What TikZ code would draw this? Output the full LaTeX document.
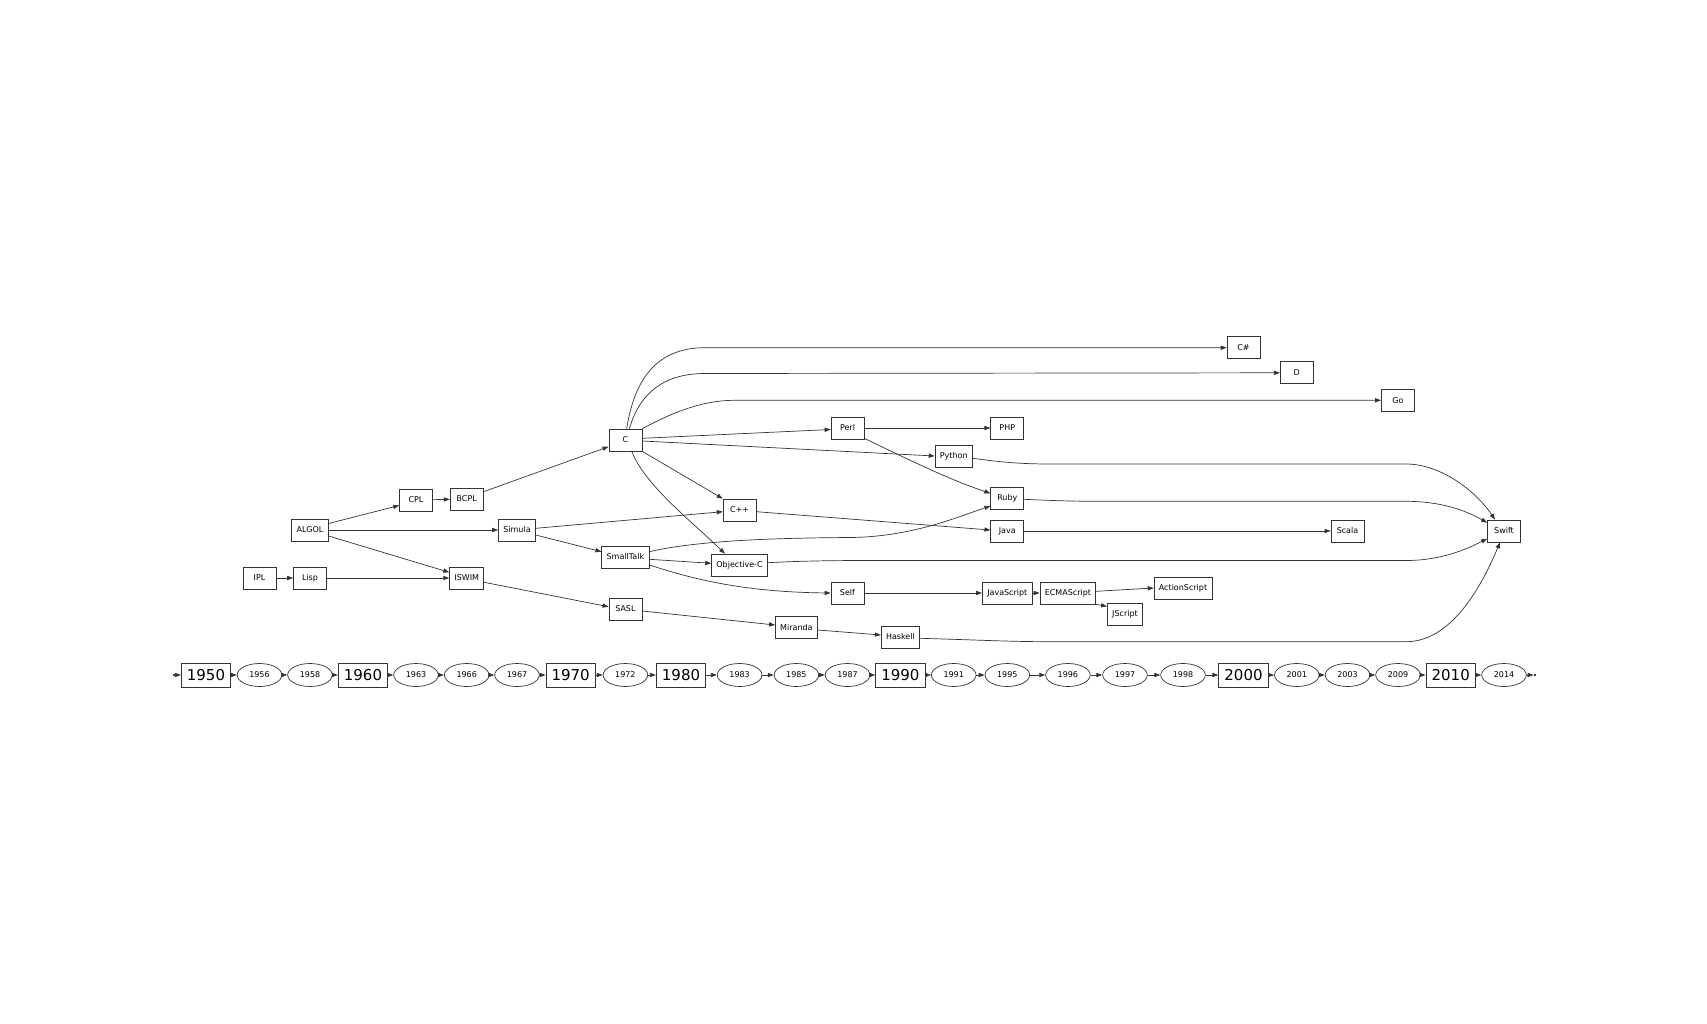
\documentclass[tikz,border=0pt]{standalone}
\usepackage{fontspec}
\setmainfont{DejaVu Sans}
\usetikzlibrary{arrows.meta,calc,shapes.geometric}
\begin{document}
\begin{tikzpicture}[x=1pt,y=-1pt,
  lang/.style={draw=black!80, line width=0.7pt, rectangle, minimum width=33pt, minimum height=22pt, inner xsep=4.8pt, inner ysep=2pt, font=\fontsize{8pt}{9.6pt}\selectfont, text=black},
  bigyear/.style={draw=black!80, line width=0.7pt, rectangle, minimum width=49.5pt, minimum height=24pt, inner xsep=4.8pt, inner ysep=1pt, font=\fontsize{15pt}{18pt}\selectfont},
  smallyear/.style={draw=black!80, line width=0.7pt, ellipse, minimum width=44.6pt, minimum height=23pt, inner sep=1pt, font=\fontsize{8pt}{9.6pt}\selectfont},
  endpt/.style={circle, fill=black, inner sep=0pt, minimum size=2.4pt},
  conn/.style={draw=black!80, line width=0.7pt, -{Triangle[length=6pt,width=4.2pt]}},
]
\useasboundingbox (0,0) rectangle (1707,1024);

% timeline
\node[endpt] (p0) at (174,675) {};
\node[bigyear] (y1950) at (206,675) {1950};
\node[smallyear] (y1956) at (259.5,675) {1956};
\node[smallyear] (y1958) at (310,675) {1958};
\node[bigyear] (y1960) at (363,675) {1960};
\node[smallyear] (y1963) at (416,675) {1963};
\node[smallyear] (y1966) at (466.7,675) {1966};
\node[smallyear] (y1967) at (517,675) {1967};
\node[bigyear] (y1970) at (570.7,675) {1970};
\node[smallyear] (y1972) at (625.4,675) {1972};
\node[bigyear] (y1980) at (681,675) {1980};
\node[smallyear] (y1983) at (739.6,675) {1983};
\node[smallyear] (y1985) at (796.4,675) {1985};
\node[smallyear] (y1987) at (847.5,675) {1987};
\node[bigyear] (y1990) at (900.4,675) {1990};
\node[smallyear] (y1991) at (953.7,675) {1991};
\node[smallyear] (y1995) at (1007.3,675) {1995};
\node[smallyear] (y1996) at (1067.9,675) {1996};
\node[smallyear] (y1997) at (1125,675) {1997};
\node[smallyear] (y1998) at (1183,675) {1998};
\node[bigyear] (y2000) at (1243.5,675) {2000};
\node[smallyear] (y2001) at (1296.8,675) {2001};
\node[smallyear] (y2003) at (1347.5,675) {2003};
\node[smallyear] (y2009) at (1398,675) {2009};
\node[bigyear] (y2010) at (1450.7,675) {2010};
\node[smallyear] (y2014) at (1504,675) {2014};
\node[endpt] (p1) at (1535,675) {};

\foreach \a/\b in {p0/y1950,y1950/y1956,y1956/y1958,y1958/y1960,y1960/y1963,y1963/y1966,y1966/y1967,y1967/y1970,y1970/y1972,y1972/y1980,y1980/y1983,y1983/y1985,y1985/y1987,y1987/y1990,y1990/y1991,y1991/y1995,y1995/y1996,y1996/y1997,y1997/y1998,y1998/y2000,y2000/y2001,y2001/y2003,y2003/y2009,y2009/y2010,y2010/y2014,y2014/p1}
  \draw[conn] (\a) -- (\b);

% languages
\node[lang] (IPL) at (259.5,578) {IPL};
\node[lang] (Lisp) at (310,578) {Lisp};
\node[lang] (ALGOL) at (310,530) {ALGOL};
\node[lang] (CPL) at (416,500) {CPL};
\node[lang] (BCPL) at (466.7,499) {BCPL};
\node[lang] (ISWIM) at (466.7,578) {ISWIM};
\node[lang] (Simula) at (517,530) {Simula};
\node[lang] (C) at (625.4,440) {C};
\node[lang] (SmallTalk) at (625.4,557) {SmallTalk};
\node[lang] (SASL) at (625.4,609) {SASL};
\node[lang] (Cpp) at (739.6,510) {C++};
\node[lang] (ObjC) at (739.6,565) {Objective-C};
\node[lang] (Miranda) at (796.4,627.5) {Miranda};
\node[lang] (Perl) at (847.5,428) {Perl};
\node[lang] (Self) at (847.5,593) {Self};
\node[lang] (Haskell) at (900.4,637) {Haskell};
\node[lang] (Python) at (953.7,456) {Python};
\node[lang] (PHP) at (1007.3,428) {PHP};
\node[lang] (Ruby) at (1007.3,498) {Ruby};
\node[lang] (Java) at (1007.3,531) {Java};
\node[lang] (JavaScript) at (1007.3,593) {JavaScript};
\node[lang] (ECMAScript) at (1067.9,593) {ECMAScript};
\node[lang] (JScript) at (1125,614) {JScript};
\node[lang] (ActionScript) at (1183,588) {ActionScript};
\node[lang] (Csharp) at (1243.5,347.7) {C\#};
\node[lang] (D) at (1296.8,372.8) {D};
\node[lang] (Scala) at (1347.5,531) {Scala};
\node[lang] (Go) at (1398,400.3) {Go};
\node[lang] (Swift) at (1504,531) {Swift};

% edges
\draw[conn] (IPL) -- (Lisp);
\draw[conn] (Lisp) -- (ISWIM);
\draw[conn] ([yshift=6.5pt]ALGOL.east) -- ([yshift=-5.5pt]CPL.west);
\draw[conn] (ALGOL) -- (Simula);
\draw[conn] ([yshift=-6pt]ALGOL.east) -- ([yshift=5.7pt]ISWIM.west);
\draw[conn] (CPL) -- (BCPL);
\draw[conn] ([yshift=7.3pt]BCPL.east) -- ([yshift=-6.7pt]C.west);
\draw[conn] ([yshift=1.7pt]Simula.east) -- ([yshift=-1.7pt]Cpp.west);
\draw[conn] ([yshift=-5pt]Simula.east) -- ([yshift=5.3pt]SmallTalk.west);
\draw[conn] ([yshift=-4.3pt]ISWIM.east) -- ([yshift=2.3pt]SASL.west);
\draw[conn] ([xshift=1.3pt]C.north) .. controls (635,375) and (660,347.7) .. (705,347.7) -- (Csharp.west);
\draw[conn] ([xshift=4pt]C.north) .. controls (640,392) and (665,373.5) .. (705,373.5) -- (D.west);
\draw[conn] (C.north east) .. controls (670,414) and (700,400.3) .. (735,400.3) -- (Go.west);
\draw[conn] ([yshift=1.7pt]C.east) -- ([yshift=-1.5pt]Perl.west);
\draw[conn] ([yshift=-1pt]C.east) -- (Python.west);
\draw[conn] (C.south east) -- (Cpp.north west);
\draw[conn] ([xshift=6.3pt]C.south) .. controls (645,485) and (690,520) .. ([xshift=-14.6pt]ObjC.north);
\draw[conn] (Perl) -- (PHP);
\draw[conn] ([yshift=1pt]Perl.south east) .. controls (905,458) and (950,480) .. ([yshift=4.7pt]Ruby.west);
\draw[conn] ([yshift=-2.3pt]Python.east) .. controls (1000,462) and (1020,464) .. (1050,464) -- (1406,464) .. controls (1440,464) and (1475,490) .. ([xshift=-9pt]Swift.north);
\draw[conn] ([yshift=-1.3pt]Ruby.east) .. controls (1050,500.5) and (1070,501.3) .. (1100,501.3) -- (1406,501.3) .. controls (1440,501.3) and (1465,510) .. ([yshift=8.3pt]Swift.west);
\draw[conn] ([yshift=-1.7pt]Cpp.east) -- ([yshift=1pt]Java.west);
\draw[conn] (Java) -- (Scala);
\draw[conn] ([yshift=5.3pt]SmallTalk.east) .. controls (700,540) and (780,538) .. (850,537.5) .. controls (910,537) and (955,518) .. ([yshift=-8pt]Ruby.west);
\draw[conn] ([yshift=-2.3pt]SmallTalk.east) -- ([yshift=1.7pt]ObjC.west);
\draw[conn] ([yshift=-8pt]SmallTalk.east) .. controls (690,578) and (740,592) .. (Self.west);
\draw[conn] ([yshift=2.3pt]ObjC.east) .. controls (800,561) and (830,560.5) .. (870,560.5) -- (1406,560.5) .. controls (1440,560.5) and (1465,550) .. ([yshift=-7.7pt]Swift.west);
\draw[conn] (Self) -- (JavaScript);
\draw[conn] (JavaScript) -- (ECMAScript);
\draw[conn] ([yshift=1.7pt]ECMAScript.east) -- (ActionScript.west);
\draw[conn] (ECMAScript.south east) -- ([yshift=-3.7pt]JScript.north west);
\draw[conn] ([yshift=-2pt]SASL.east) -- ([yshift=2.5pt]Miranda.west);
\draw[conn] ([yshift=-2.5pt]Miranda.east) -- ([yshift=2pt]Haskell.west);
\draw[conn] ([yshift=-1.3pt]Haskell.east) .. controls (980,640) and (1010,641.7) .. (1050,641.7) -- (1406,641.7) .. controls (1450,641.7) and (1480,590) .. ([xshift=-4pt]Swift.south);
\end{tikzpicture}
\end{document}
